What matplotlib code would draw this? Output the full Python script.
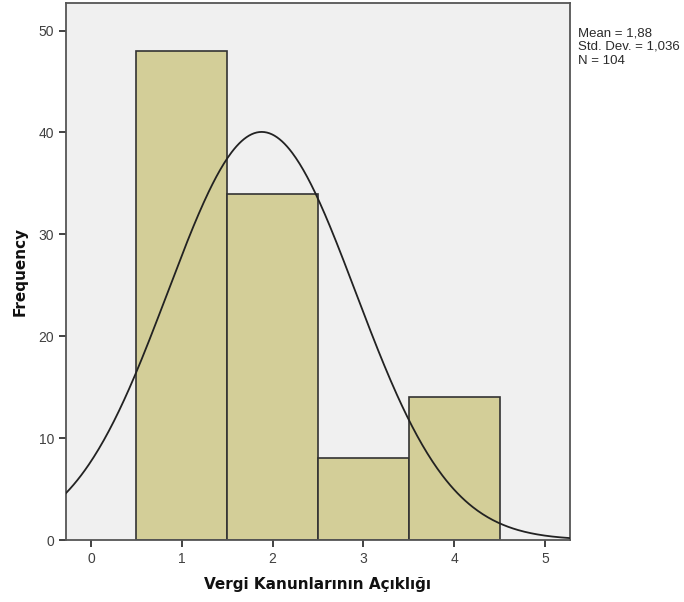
import numpy as np
import matplotlib
matplotlib.use("Agg")
import matplotlib.pyplot as plt

categories = [1, 2, 3, 4]
frequencies = [48, 34, 8, 14]
mean_val = 1.88
std_val = 1.036
n_val = 104
x_ticks = [0, 1, 2, 3, 4, 5]
y_ticks = [0, 10, 20, 30, 40, 50]
x_label = "Vergi Kanunlarının Açıklığı"
y_label = "Frequency"
stats_text = "Mean = 1,88\nStd. Dev. = 1,036\nN = 104"

plt.rcParams['font.family'] = ['Liberation Sans', 'DejaVu Sans']

fig = plt.figure(figsize=(6.84, 6.02), dpi=100)
ax = fig.add_axes([66/684, 62/602, (570-66)/684, (540-3)/602])
ax.set_facecolor('#F0F0F0')

ax.bar(categories, frequencies, width=1.0, color='#D3CE98', edgecolor='#333333', linewidth=1.2, zorder=2)

xmin, xmax = -0.275, 5.275
xs = np.linspace(xmin, xmax, 400)
ys = n_val * 1.0 / (std_val * np.sqrt(2*np.pi)) * np.exp(-0.5*((xs-mean_val)/std_val)**2)
ax.plot(xs, ys, color='#222222', linewidth=1.3, zorder=3)

ax.set_xlim(xmin, xmax)
ax.set_ylim(0, 52.7)
ax.set_xticks(x_ticks)
ax.set_yticks(y_ticks)
ax.set_xticklabels([str(t) for t in x_ticks])
ax.set_yticklabels([str(t) for t in y_ticks])
ax.tick_params(axis='both', colors='#333333', labelcolor='#404040', labelsize=10, length=5, width=1.3, direction='out')
for s in ax.spines.values():
    s.set_color('#555555')
    s.set_linewidth(1.3)

ax.set_xlabel(x_label, fontsize=11, fontweight='bold', color='#111111', labelpad=8,
              family=['DejaVu Sans'])
ax.set_ylabel(y_label, fontsize=11, fontweight='bold', color='#111111', labelpad=8,
              family=['DejaVu Sans'])

fig.text(578/684, 1 - 27/602, stats_text, fontsize=9.5, color='#2a2a2a', va='top', ha='left', linespacing=1.22)

fig.savefig('out.png', dpi=100)
